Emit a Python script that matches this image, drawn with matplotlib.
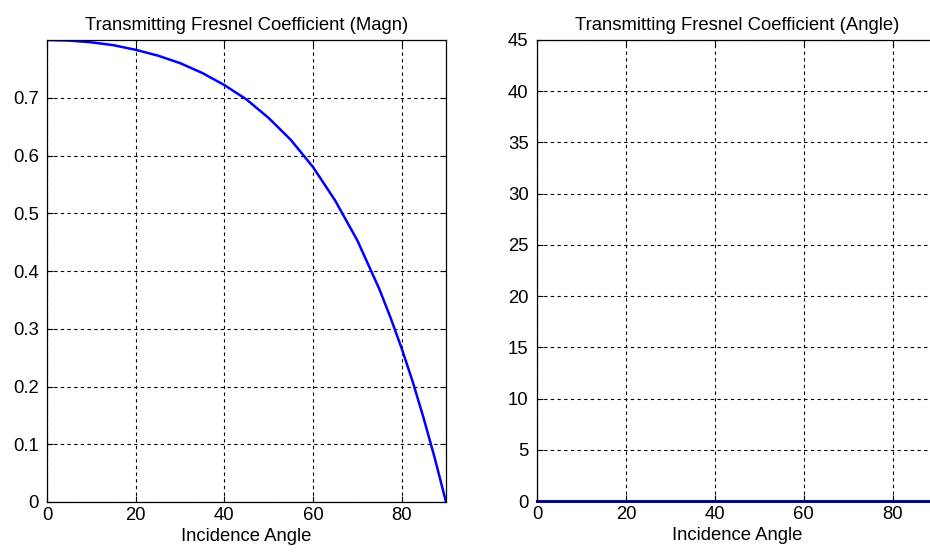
import matplotlib
matplotlib.use("Agg")
import matplotlib.pyplot as plt

plt.rcParams['font.family'] = ['Liberation Sans', 'DejaVu Sans']

incidence = [0, 5, 10, 15, 20, 25, 30, 35, 40, 45, 50, 55, 60, 65, 70, 75,
             77.5, 80, 82.5, 85, 87.5, 90]
magnitude = [0.800, 0.799, 0.796, 0.791, 0.783, 0.773, 0.760, 0.743, 0.722,
             0.697, 0.665, 0.627, 0.580, 0.522, 0.453, 0.368, 0.319, 0.266,
             0.208, 0.144, 0.075, 0.000]
phase = [0.0] * len(incidence)

x_ticks = [0, 20, 40, 60, 80]
mag_ticks = [0, 0.1, 0.2, 0.3, 0.4, 0.5, 0.6, 0.7]
mag_ticklabels = ['0', '0.1', '0.2', '0.3', '0.4', '0.5', '0.6', '0.7']
ang_ticks = [0, 5, 10, 15, 20, 25, 30, 35, 40, 45]

FS = 13.3

fig = plt.figure(figsize=(9.3, 5.55), dpi=100)
W, H = 930, 555
ax1 = fig.add_axes([47 / W, (H - 502) / H, 399 / W, 462 / H])
ax2 = fig.add_axes([537 / W, (H - 501) / H, 400 / W, 461 / H])

grid_kw = dict(color='black', linestyle=(0, (3, 3)), linewidth=0.8)

for ax in (ax1, ax2):
    ax.tick_params(direction='in', length=4, width=0.8, labelsize=FS,
                   colors='black', top=True, right=True)
    ax.tick_params(axis='x', pad=3.5)
    ax.tick_params(axis='y', pad=6)
    for s in ax.spines.values():
        s.set_linewidth(0.9)
        s.set_color('black')
    ax.grid(True, **grid_kw)
    ax.set_axisbelow(True)
    ax.set_xlabel('Incidence Angle', fontsize=FS, labelpad=3)
    ax.set_xticks(x_ticks)
    ax.set_xlim(0, 90)

ax1.plot(incidence, magnitude, color='#0000ff', linewidth=1.8)
ax1.set_ylim(0, 0.8)
ax1.set_yticks(mag_ticks)
ax1.set_yticklabels(mag_ticklabels)
ax1.set_title('Transmitting Fresnel Coefficient (Magn)', fontsize=FS, pad=7)

ax2.plot(incidence, phase, color='#0000ff', linewidth=2.2, clip_on=False)
ax2.set_ylim(0, 45)
ax2.set_yticks(ang_ticks)
ax2.set_title('Transmitting Fresnel Coefficient (Angle)', fontsize=FS, pad=7)

fig.savefig('out.png', dpi=100)
